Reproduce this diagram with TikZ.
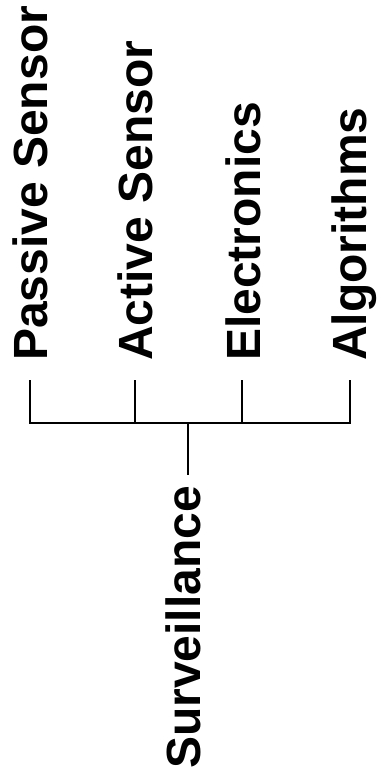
\documentclass[tikz,border=0pt]{standalone}
\usepackage{fontspec}
\setmainfont{Liberation Sans}
\usetikzlibrary{positioning}

\begin{document}
\begin{tikzpicture}[x=1pt, y=-1pt,
	branch/.style={line width=2.4pt, line cap=rect},
	leaf/.style={rotate=90, anchor=base west, inner sep=0pt, font=\fontsize{48}{50}\selectfont\bfseries}]
	\useasboundingbox (0, 0) rectangle (378, 780);
	% Labels:
	\node[leaf] (pas) at (47, 361){Passive Sensor};
	\node[leaf] (act) at (152, 361){Active Sensor};
	\node[leaf] (ele) at (260, 361){Electronics};
	\node[leaf] (alg) at (366, 361){Algorithms};
	\node[leaf] (sur) at (200, 769){Surveillance};
	% Tree:
	\foreach \n/\x in {1/30, 2/135, 3/242, 4/350}{
		\coordinate (t\n) at (\x, 381);
		\coordinate (j\n) at (\x, 423);
	}
	\coordinate (j0) at (188, 423);
	\coordinate (root) at (188, 474);
	\draw[branch] (t1) -- (j1) -- (j4) -- (t4);
	\draw[branch] (t2) -- (j2);
	\draw[branch] (t3) -- (j3);
	\draw[branch] (j0) -- (root);
\end{tikzpicture}
\end{document}
